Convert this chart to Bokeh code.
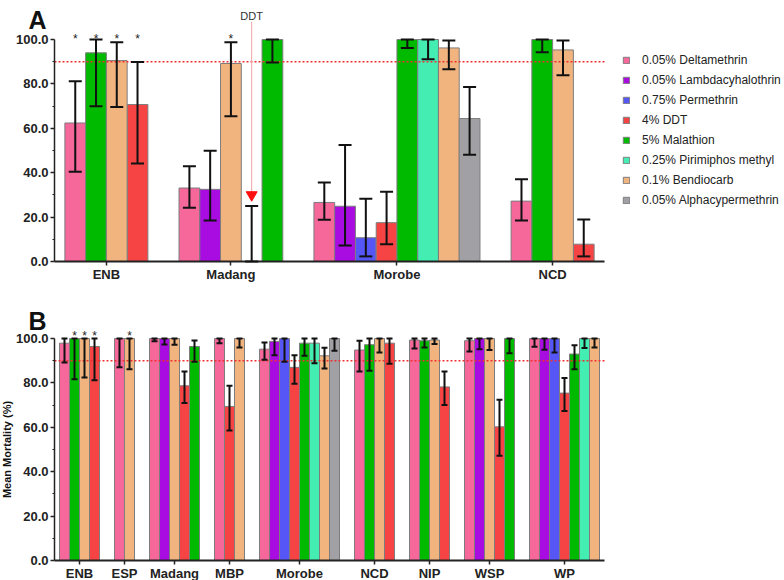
import math
from bokeh.plotting import figure
from bokeh.models import (ColumnDataSource, Whisker, TeeHead, FixedTicker, NumeralTickFormatter,
                          Range1d, Legend, LegendItem)
from bokeh.layouts import column
from bokeh.core.properties import value
from bokeh.embed import file_html
from bokeh.resources import INLINE

# ---------------- data ----------------
INSECT_CODES = ["Del", "Lam", "Per", "DDT", "Mal", "Pir", "Ben", "Alp"]
INSECT_LABELS = ["0.05% Deltamethrin", "0.05% Lambdacyhalothrin", "0.75% Permethrin", "4% DDT",
                 "5% Malathion", "0.25% Pirimiphos methyl", "0.1% Bendiocarb", "0.05% Alphacypermethrin"]
INSECT_COLORS = ["#F6679A", "#A90CE0", "#5656F6", "#F64444", "#00BA00", "#44EDB2", "#F2B47F", "#A1A0A5"]
THRESHOLD = 90

# Panel A
A_site = ["ENB"] * 4 + ["Madang"] * 5 + ["Morobe"] * 8 + ["NCD"] * 4
A_insect = ["Del", "Mal", "Ben", "DDT",
            "Del", "Lam", "Ben", "DDT", "Mal",
            "Del", "Lam", "Per", "DDT", "Mal", "Pir", "Ben", "Alp",
            "Del", "Mal", "Ben", "DDT"]
A_mean = [62.4, 94.0, 90.5, 70.7,
          33.1, 32.5, 89.2, 0.0, 100.0,
          26.6, 24.9, 10.7, 17.5, 100.0, 100.0, 96.2, 64.4,
          27.2, 100.0, 95.3, 7.8]
A_low = [40.4, 69.9, 69.6, 44.1,
         24.2, 18.5, 65.4, 0.0, 89.6,
         18.8, 7.2, 2.3, 7.8, 96.2, 91.1, 86.6, 48.1,
         18.5, 94.3, 83.9, 2.3]
A_high = [81.2, 100.0, 98.8, 89.9,
          42.9, 49.9, 98.8, 25.0, 100.0,
          35.6, 52.5, 28.3, 31.4, 100.0, 100.0, 99.6, 78.6,
          37.0, 100.0, 99.6, 18.9]
A_star = [1, 1, 1, 1,
          0, 0, 1, 0, 0,
          0, 0, 0, 0, 0, 0, 0, 0,
          0, 0, 0, 0]

# Panel B
B_site = (["ENB"] * 4 + ["ESP"] * 2 + ["Madang"] * 5 + ["MBP"] * 3 + ["Morobe"] * 8 +
          ["NCD"] * 4 + ["NIP"] * 4 + ["WSP"] * 5 + ["WP"] * 7)
B_insect = ["Del", "Mal", "Ben", "DDT",
            "Del", "Ben",
            "Del", "Lam", "Ben", "DDT", "Mal",
            "Del", "DDT", "Ben",
            "Del", "Lam", "Per", "DDT", "Mal", "Pir", "Ben", "Alp",
            "Del", "Mal", "Ben", "DDT",
            "Del", "Mal", "Ben", "DDT",
            "Del", "Lam", "Ben", "DDT", "Mal",
            "Del", "Lam", "Per", "DDT", "Mal", "Pir", "Ben"]
B_mean = [97.9, 100.0, 100.0, 96.4,
          100.0, 100.0,
          100.0, 100.0, 100.0, 78.7, 96.4,
          100.0, 69.4, 100.0,
          95.2, 98.7, 100.0, 87.0, 97.9, 97.9, 92.2, 100.0,
          94.8, 97.2, 100.0, 97.9,
          99.3, 99.0, 99.3, 78.2,
          99.0, 100.0, 100.0, 60.2, 100.0,
          100.0, 100.0, 100.0, 75.4, 93.0, 100.0, 100.0]
B_low = [89.2, 81.7, 82.4, 81.2,
         87.0, 86.2,
         98.8, 97.3, 97.2, 71.0, 89.5,
         97.9, 58.6, 96.0,
         90.4, 92.5, 89.5, 79.6, 92.2, 88.8, 86.5, 94.5,
         85.1, 85.5, 93.7, 88.6,
         95.5, 96.0, 97.5, 70.0,
         94.2, 95.2, 94.8, 47.2, 93.3,
         96.3, 94.9, 93.7, 67.3, 86.2, 95.7, 96.0]
B_high = [100.0, 100.0, 100.0, 100.0,
          100.0, 100.0,
          100.0, 100.0, 100.0, 85.1, 99.1,
          100.0, 78.7, 100.0,
          98.2, 100.0, 100.0, 92.5, 100.0, 100.0, 95.8, 100.0,
          99.0, 100.0, 100.0, 100.0,
          100.0, 100.0, 100.0, 85.1,
          100.0, 100.0, 100.0, 72.4, 100.0,
          100.0, 100.0, 100.0, 82.2, 97.0, 100.0, 100.0]
B_star = [0, 1, 1, 1,
          0, 1,
          0, 0, 0, 0, 0,
          0, 0, 0,
          0, 0, 0, 0, 0, 0, 0, 0,
          0, 0, 0, 0,
          0, 0, 0, 0,
          0, 0, 0, 0, 0,
          0, 0, 0, 0, 0, 0, 0]

Y_TICKS = [0, 20, 40, 60, 80, 100]
Y_MINOR = [10, 30, 50, 70, 90]

FONT = "Liberation Sans"
EDGE = 0.5
GAP = 1.5
W = 784
AXIS_X = 54          # pixel position of the y axis
PX_PER_UNIT_Y = 2.22


def positions(sites):
    xs, centers, names = [], [], []
    pos = EDGE
    prev = None
    start = pos
    for s in sites:
        if prev is not None and s != prev:
            centers.append((start + pos) / 2.0)
            names.append(prev)
            pos += GAP
            start = pos
        xs.append(pos + 0.5)
        pos += 1
        prev = s
    centers.append((start + pos) / 2.0)
    names.append(prev)
    return xs, centers, names, pos + EDGE


def style_axes(p, centers, names, axis_end):
    xa = p.xaxis[0]
    xa.fixed_location = 0
    xa.ticker = FixedTicker(ticks=centers, minor_ticks=[])
    xa.major_label_overrides = {c: n for c, n in zip(centers, names)}
    xa.bounds = (0, axis_end)
    xa.axis_line_width = 2
    xa.axis_line_color = "#222222"
    xa.major_tick_line_color = "#222222"
    xa.major_tick_line_width = 1.5
    xa.major_tick_out = 4
    xa.major_tick_in = 0
    xa.minor_tick_line_color = None
    xa.major_label_standoff = 1
    xa.major_label_text_font = FONT
    xa.major_label_text_font_style = "bold"
    xa.major_label_text_font_size = "13px"
    xa.major_label_text_color = "#222222"

    ya = p.yaxis[0]
    ya.fixed_location = 0
    ya.ticker = FixedTicker(ticks=Y_TICKS, minor_ticks=Y_MINOR)
    ya.formatter = NumeralTickFormatter(format="0.0")
    ya.bounds = (0, 100)
    ya.axis_line_width = 1.5
    ya.axis_line_color = "#222222"
    ya.major_tick_line_color = "#222222"
    ya.major_tick_line_width = 1.5
    ya.major_tick_out = 4
    ya.major_tick_in = 0
    ya.minor_tick_line_color = "#222222"
    ya.minor_tick_line_width = 1
    ya.minor_tick_out = 2
    ya.minor_tick_in = 0
    ya.major_label_standoff = 2
    ya.major_label_text_font = FONT
    ya.major_label_text_font_style = "bold"
    ya.major_label_text_font_size = "13px"
    ya.major_label_text_color = "#222222"
    p.xgrid.visible = False
    p.ygrid.visible = False
    p.outline_line_color = None


def draw_panel(p, sites, insects, means, lows, highs, stars, head_size, err_w, star_y):
    xs, centers, names, axis_end = positions(sites)
    renderers = {}
    for code, color in zip(INSECT_CODES, INSECT_COLORS):
        idx = [i for i, c in enumerate(insects) if c == code]
        if not idx:
            continue
        src = ColumnDataSource(dict(x=[xs[i] for i in idx], top=[means[i] for i in idx]))
        r = p.vbar(x="x", top="top", bottom=0, width=1, source=src, fill_color=color,
                   line_color="#7d7d7d", line_width=1)
        renderers[code] = r
    esrc = ColumnDataSource(dict(x=xs, lo=lows, hi=highs))
    w = Whisker(source=esrc, base="x", lower="lo", upper="hi", line_color="#111111", line_width=err_w,
                level="annotation",
                upper_head=TeeHead(size=head_size, line_color="#111111", line_width=err_w),
                lower_head=TeeHead(size=head_size, line_color="#111111", line_width=err_w))
    p.add_layout(w)
    # threshold line
    p.line(x=[0, axis_end], y=[THRESHOLD, THRESHOLD], line_color="#F03030", line_width=1.6,
           line_dash="2 2")
    # significance stars
    sx = [xs[i] for i, s in enumerate(stars) if s]
    p.text(x=sx, y=[star_y] * len(sx), text=["*"] * len(sx), text_align="center",
           text_baseline="alphabetic", text_font=value(FONT), text_font_size="12px",
           text_color="#222222")
    style_axes(p, centers, names, axis_end)
    return xs, renderers, axis_end


# ---------------- panel A ----------------
PX_A = 550.0 / 26.5
A_H, A_ZERO = 285, 261       # figure height, pixel row of the zero line
pA = figure(width=W, height=A_H, output_backend="svg", toolbar_location=None,
            min_border_left=0, min_border_right=0, min_border_top=0, min_border_bottom=0,
            x_range=Range1d(-AXIS_X / PX_A, (W - AXIS_X) / PX_A),
            y_range=Range1d(-(A_H - A_ZERO) / PX_PER_UNIT_Y, A_ZERO / PX_PER_UNIT_Y))
xsA, rendA, endA = draw_panel(pA, A_site, A_insect, A_mean, A_low, A_high, A_star, 13, 2, 100.3)

# DDT annotation (Madang DDT bar with zero mortality)
ddt_i = [i for i in range(len(A_site)) if A_site[i] == "Madang" and A_insect[i] == "DDT"][0]
ddt_x = xsA[ddt_i]
arrow_y = A_high[ddt_i] + 5
pA.line(x=[ddt_x, ddt_x], y=[arrow_y + 1, 108], line_color="#F2A3A3", line_width=1)
pA.scatter(x=[ddt_x], y=[arrow_y], marker="inverted_triangle", size=11, fill_color="#FF1010",
           line_color="#FF1010")
pA.text(x=[ddt_x], y=[110.8], text=["DDT"], text_align="center", text_baseline="middle",
        text_font=value(FONT), text_font_size="11px", text_color="#333333")

# panel letter
pA.text(x=[-26 / PX_A], y=[108.6], text=["A"], text_font=value(FONT), text_font_style="bold",
        text_font_size="25px", text_align="left", text_baseline="alphabetic", text_color="#111111")

legend = Legend(items=[LegendItem(label=lab, renderers=[rendA[c]])
                       for c, lab in zip(INSECT_CODES, INSECT_LABELS)],
                location=(622, 51 + (A_H - A_ZERO)), padding=0, margin=0, spacing=0,
                glyph_width=8, glyph_height=8, label_height=20, label_standoff=12,
                label_text_font=FONT, label_text_font_size="12px", label_text_color="#222222",
                border_line_color=None, background_fill_alpha=0)
pA.add_layout(legend)

# ---------------- panel B ----------------
PX_B = 550.0 / 55.0
B_H, B_ZERO = 295, 275       # figure height, pixel row of the zero line (from figure top)
pB = figure(width=W, height=B_H, output_backend="svg", toolbar_location=None,
            min_border_left=0, min_border_right=0, min_border_top=0, min_border_bottom=0,
            x_range=Range1d(-AXIS_X / PX_B, (W - AXIS_X) / PX_B),
            y_range=Range1d(-(B_H - B_ZERO) / PX_PER_UNIT_Y, B_ZERO / PX_PER_UNIT_Y))
xsB, rendB, endB = draw_panel(pB, B_site, B_insect, B_mean, B_low, B_high, B_star, 6, 2, 101.0)

pB.text(x=[-26 / PX_B], y=[108.1], text=["B"], text_font=value(FONT), text_font_style="bold",
        text_font_size="25px", text_align="left", text_baseline="alphabetic", text_color="#111111")
pB.text(x=[-48 / PX_B], y=[50], text=["Mean Mortality (%)"], angle=math.pi / 2,
        text_font=value(FONT), text_font_style="bold", text_font_size="11px",
        text_align="center", text_baseline="middle", text_color="#111111")

layout = column(pA, pB, spacing=0)
open("out.html", "w").write(file_html(layout, INLINE))
